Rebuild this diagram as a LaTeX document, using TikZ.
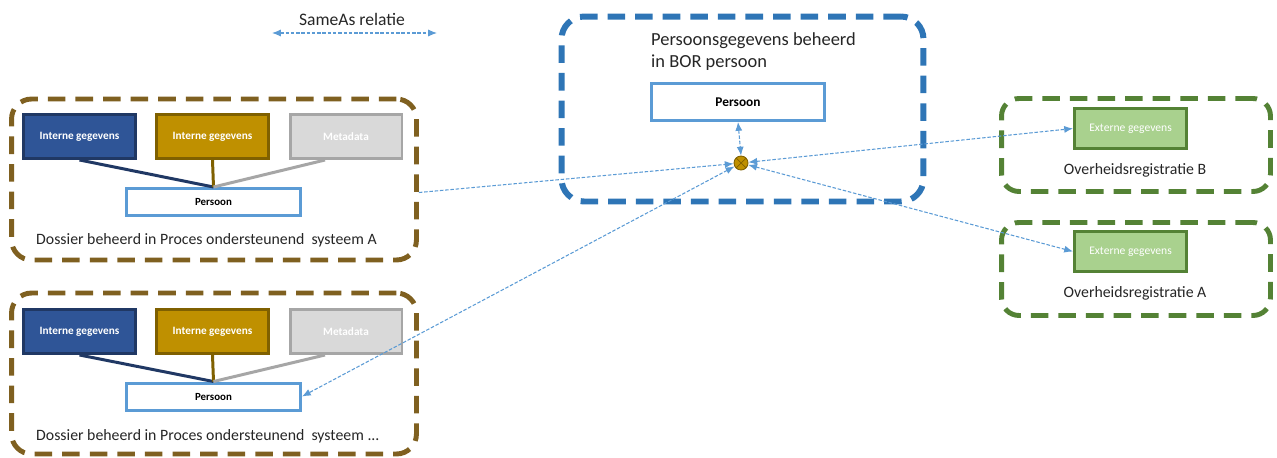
\documentclass[tikz,border=0pt]{standalone}
\usepackage{fontspec}
\setmainfont{Carlito}
\usetikzlibrary{arrows.meta}
\definecolor{dosbrown}{RGB}{127,96,32}
\definecolor{borblue}{RGB}{46,117,182}
\definecolor{reggreen}{RGB}{84,130,53}
\definecolor{darkfill}{RGB}{47,85,151}
\definecolor{darkedge}{RGB}{32,56,100}
\definecolor{goldfill}{RGB}{191,144,0}
\definecolor{goldedge}{RGB}{127,96,0}
\definecolor{grayfill}{RGB}{217,217,217}
\definecolor{grayedge}{RGB}{166,166,166}
\definecolor{lightblue}{RGB}{91,155,213}
\definecolor{greenfill}{RGB}{169,209,142}
\tikzset{
  dosframe/.style={draw=dosbrown, rounded corners=0.4cm, line width=2.8pt,
    dash pattern=on 10pt off 5.7pt, fill=white, inner sep=0pt,
    minimum width=8.1cm, minimum height=3.22cm},
  borframe/.style={draw=borblue, rounded corners=0.45cm, line width=3.4pt,
    dash pattern=on 10pt off 5.7pt, fill=white, inner sep=0pt,
    minimum width=7.24cm, minimum height=3.7cm},
  regframe/.style={draw=reggreen, rounded corners=0.35cm, line width=2.8pt,
    dash pattern=on 10pt off 5.7pt, fill=white, inner sep=0pt,
    minimum width=5.38cm, minimum height=1.86cm},
  databox/.style={draw, line width=1.7pt, inner sep=0pt,
    minimum width=2.24cm, minimum height=0.88cm, text=white},
  intbox/.style={databox, font=\bfseries\fontsize{6.4}{7}\selectfont},
  persbox/.style={draw=lightblue, line width=1.7pt, fill=white, inner sep=0pt,
    font=\bfseries\fontsize{6.2}{7}\selectfont},
  caption/.style={font=\fontsize{9}{10}\selectfont, text=black!85},
  feed/.style={line width=1.7pt},
  link/.style={draw=lightblue, line width=0.6pt, dash pattern=on 2pt off 1pt},
  >={Latex[length=5pt,width=4pt]}
}
\begin{document}
\begin{tikzpicture}[x=0.02cm, y=-0.02cm]
  \useasboundingbox (0,0) rectangle (1277,457);

  \node[dosframe] (dosA) at (214,179.5) {};
  \node[dosframe] (dosB) at (214,373.5) {};
  \node[borframe] (bor) at (742.5,109) {};
  \node[regframe] (regB) at (1136,145) {};
  \node[regframe] (regA) at (1136,269) {};

  \node[intbox, draw=darkedge, fill=darkfill] (intA1) at (79.5,136.5) {Interne gegevens};
  \node[intbox, draw=goldedge, fill=goldfill] (intA2) at (212.5,136.5) {Interne gegevens};
  \node[intbox, draw=grayedge, fill=grayfill] (metaA) at (346,136.5) {Metadata};
  \node[persbox, minimum width=3.48cm, minimum height=0.54cm] (persA) at (213.5,202) {Persoon};
  \node[caption, anchor=west] (capA) at (30,240) {Dossier beheerd in Proces ondersteunend~ systeem A};

  \node[intbox, draw=darkedge, fill=darkfill] (intB1) at (79.5,331.5) {Interne gegevens};
  \node[intbox, draw=goldedge, fill=goldfill] (intB2) at (212.5,331.5) {Interne gegevens};
  \node[intbox, draw=grayedge, fill=grayfill] (metaB) at (346,331.5) {Metadata};
  \node[persbox, minimum width=3.48cm, minimum height=0.54cm] (persB) at (213.5,396.5) {Persoon};
  \node[caption, anchor=west] (capB) at (30,436) {Dossier beheerd in Proces ondersteunend~ systeem ...};

  \draw[feed, darkedge] (intA1.south) -- (persA.north);
  \draw[feed, goldedge] (intA2.south) -- (persA.north);
  \draw[feed, grayedge] ([xshift=-0.42cm]metaA.south) -- (persA.north);
  \draw[feed, darkedge] (intB1.south) -- (persB.north);
  \draw[feed, goldedge] (intB2.south) -- (persB.north);
  \draw[feed, grayedge] ([xshift=-0.42cm]metaB.south) -- (persB.north);

  \node[font=\fontsize{10.5}{12.5}\selectfont, text=black!85, align=left, anchor=west] (borlabel) at (645,52) {Persoonsgegevens beheerd\\in BOR persoon};
  \node[persbox, minimum width=3.46cm, minimum height=0.74cm, font=\bfseries\fontsize{7.6}{9}\selectfont] (persBor) at (738,102) {Persoon};
  \node[circle, draw=goldedge, fill=goldfill, line width=0.5pt, minimum size=0.28cm, inner sep=0pt,
    path picture={\draw[goldedge, line width=0.4pt]
      (path picture bounding box.north west) -- (path picture bounding box.south east)
      (path picture bounding box.north east) -- (path picture bounding box.south west);}] (xo) at (741,163) {};

  \node[databox, draw=reggreen, fill=greenfill, font=\fontsize{6.6}{8}\selectfont, minimum height=0.8cm] (extB) at (1130.5,128.5) {Externe gegevens};
  \node[caption] (capRB) at (1135,170) {Overheidsregistratie B};
  \node[databox, draw=reggreen, fill=greenfill, font=\fontsize{6.6}{8}\selectfont, minimum height=0.8cm] (extA) at (1130.5,251.5) {Externe gegevens};
  \node[caption] (capRA) at (1135,293) {Overheidsregistratie A};

  \node[font=\fontsize{10}{12}\selectfont, text=black!85] (samelabel) at (352,19) {SameAs relatie};
  \coordinate (sameL) at (272,33);
  \coordinate (sameR) at (437,33);
  \draw[link, <->] (sameL) -- (sameR);

  \draw[link, <->] (persBor.south) -- (xo.north);
  \draw[link, ->] ([yshift=-0.26cm]dosA.east) -- (xo);
  \draw[link, <->] (xo) -- (persB.east);
  \draw[link, <->] (xo) -- (extB.west);
  \draw[link, <->] (xo) -- (extA.west);
\end{tikzpicture}
\end{document}
